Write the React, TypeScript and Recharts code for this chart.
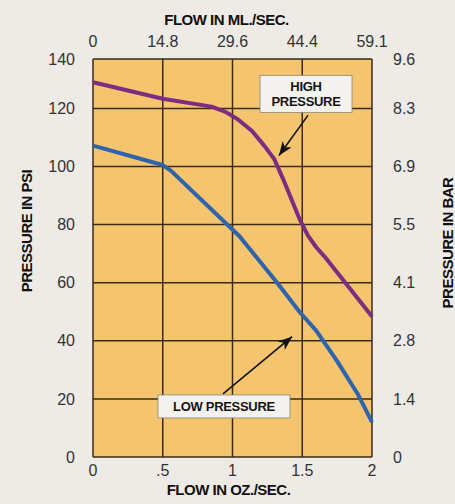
import React from 'react';
import { LineChart, Line, XAxis, YAxis, CartesianGrid, ReferenceLine, ReferenceDot, Label } from 'recharts';

const FONT = '"Liberation Sans", Arial, Helvetica, sans-serif';

// flow in oz./sec. and pressure in psi
const highFlow = [0, 0.5, 0.85, 0.95, 1.04, 1.14, 1.23, 1.3, 1.36, 1.48, 1.54, 1.6, 1.66, 2];
const highPsi = [129, 123.3, 120.6, 118.8, 116.2, 112.2, 107, 102.5, 96, 82, 76.3, 72.2, 69, 48.4];
const lowFlow = [0, 0.5, 0.56, 1.05, 1.32, 1.48, 1.6, 1.75, 1.9, 2];
const lowPsi = [107.2, 100.5, 98.5, 76, 60, 50, 43.5, 33, 21.5, 12];

// ticks; the printed grid's top row is cut short, its edge sits near 137 psi
const flowTicks = [0, 0.5, 1, 1.5, 2];
const ozLabels = ['0', '.5', '1', '1.5', '2'];
const mlLabels = ['0', '14.8', '29.6', '44.4', '59.1'];
const psiTicks = [0, 20, 40, 60, 80, 100, 120, 137];
const psiLabels = ['0', '20', '40', '60', '80', '100', '120', '140'];
const barLabels = ['0', '1.4', '2.8', '4.1', '5.5', '6.9', '8.3', '9.6'];

const highData = highFlow.map((flow, i) => ({ flow, psi: highPsi[i] }));
const lowData = lowFlow.map((flow, i) => ({ flow, psi: lowPsi[i] }));

// callouts (data units)
const highNote = { flow: 1.527, psi: 125, lines: ['HIGH', 'PRESSURE'], w: 92, h: 37 };
const lowNote = { flow: 0.939, psi: 17.4, lines: ['LOW PRESSURE'], w: 132, h: 23 };
const highArrow = [{ x: 1.541, y: 117.6 }, { x: 1.333, y: 103.8 }];
const lowArrow = [{ x: 0.932, y: 21.7 }, { x: 1.427, y: 41.4 }];

const tickStyle = { fontSize: 16, fill: '#333', fontFamily: FONT };
const titleStyle = { fontFamily: FONT, fontWeight: 700, fontSize: 15, letterSpacing: -0.5, fill: '#111' };

const axisTitle = (text: string, dx: number, dy: number, angle = 0) => (props: any) => {
  const vb = props.viewBox;
  const x = vb.x + vb.width / 2 + dx;
  const y = vb.y + vb.height / 2 + dy;
  return (
    <text
      x={x}
      y={y}
      textAnchor="middle"
      dominantBaseline="central"
      transform={angle ? `rotate(${angle} ${x} ${y})` : undefined}
      style={titleStyle}
    >
      {text}
    </text>
  );
};

const NoteBox = ({ cx, cy, lines, w, h }: any) => {
  const lh = 14.5;
  const first = -((lines.length - 1) * lh) / 2 + 4.6;
  return (
    <g>
      <rect x={cx - w / 2} y={cy - h / 2} width={w} height={h} fill="#f4f2ee" stroke="#8a8478" strokeWidth={0.8} />
      <text textAnchor="middle" style={{ fontFamily: FONT, fontWeight: 700, fontSize: 13, letterSpacing: -0.3, fill: '#151515' }}>
        {lines.map((l: string, i: number) => (
          <tspan key={l} x={cx} y={cy + first + i * lh}>{l}</tspan>
        ))}
      </text>
    </g>
  );
};

export default function App() {
  return (
    <div style={{ position: 'absolute', left: 0, top: 0, width: 455, height: 504, background: '#eeeae5' }}>
      <LineChart width={455} height={504} margin={{ top: 29, right: 23, bottom: 23, left: 33 }}>
        <defs>
          <marker id="arrowHead" markerUnits="userSpaceOnUse" markerWidth={15} markerHeight={11} refX={14} refY={5.5} orient="auto">
            <path d="M0,0 L14,5.5 L0,11 L4,5.5 Z" fill="#111" />
          </marker>
        </defs>
        <CartesianGrid xAxisId="oz" yAxisId="psi" fill="#f4c46e" fillOpacity={1} stroke="#3a2c14" strokeWidth={1.5} />
        <XAxis
          xAxisId="oz"
          dataKey="flow"
          type="number"
          domain={[0, 2]}
          ticks={flowTicks}
          interval={0}
          orientation="bottom"
          height={24}
          axisLine={false}
          tickLine={false}
          tickSize={0}
          tickMargin={8}
          tick={tickStyle}
          tickFormatter={(v, i) => ozLabels[i]}
        >
          <Label content={axisTitle('FLOW IN OZ./SEC.', -4, 20)} />
        </XAxis>
        {/* same range as the oz axis: 1 oz/s = 29.6 ml/s */}
        <XAxis
          xAxisId="ml"
          dataKey="flow"
          type="number"
          domain={[0, 2]}
          ticks={flowTicks}
          interval={0}
          orientation="top"
          height={30}
          axisLine={false}
          tickLine={false}
          tickSize={0}
          tickMargin={12}
          tick={tickStyle}
          tickFormatter={(v, i) => mlLabels[i]}
        >
          <Label content={axisTitle('FLOW IN ML./SEC.', -6, -25)} />
        </XAxis>
        <YAxis
          yAxisId="psi"
          type="number"
          domain={[0, 137]}
          ticks={psiTicks}
          interval={0}
          width={60}
          axisLine={false}
          tickLine={false}
          tickSize={0}
          tickMargin={18}
          tick={tickStyle}
          tickFormatter={(v, i) => psiLabels[i]}
        >
          <Label content={axisTitle('PRESSURE IN PSI', -37, -27, -90)} />
        </YAxis>
        {/* same range as the psi axis, labelled in bar */}
        <YAxis
          yAxisId="bar"
          orientation="right"
          type="number"
          domain={[0, 137]}
          ticks={psiTicks}
          interval={0}
          width={60}
          axisLine={false}
          tickLine={false}
          tickSize={0}
          tickMargin={21}
          tick={tickStyle}
          tickFormatter={(v, i) => barLabels[i]}
        >
          <Label content={axisTitle('PRESSURE IN BAR', 45, -15, -90)} />
        </YAxis>
        <Line
          data={highData}
          dataKey="psi"
          xAxisId="oz"
          yAxisId="psi"
          type="linear"
          stroke="#7d2c82"
          strokeWidth={4}
          strokeLinejoin="round"
          dot={false}
          isAnimationActive={false}
        />
        <Line
          data={lowData}
          dataKey="psi"
          xAxisId="ml"
          yAxisId="bar"
          type="linear"
          stroke="#2e63ad"
          strokeWidth={4}
          strokeLinejoin="round"
          dot={false}
          isAnimationActive={false}
        />
        <ReferenceLine xAxisId="oz" yAxisId="psi" segment={highArrow} stroke="#111" strokeWidth={1.6} markerEnd="url(#arrowHead)" />
        <ReferenceLine xAxisId="oz" yAxisId="psi" segment={lowArrow} stroke="#111" strokeWidth={1.6} markerEnd="url(#arrowHead)" />
        <ReferenceDot
          xAxisId="oz"
          yAxisId="psi"
          x={highNote.flow}
          y={highNote.psi}
          shape={(p: any) => <NoteBox cx={p.cx} cy={p.cy} lines={highNote.lines} w={highNote.w} h={highNote.h} />}
        />
        <ReferenceDot
          xAxisId="oz"
          yAxisId="psi"
          x={lowNote.flow}
          y={lowNote.psi}
          shape={(p: any) => <NoteBox cx={p.cx} cy={p.cy} lines={lowNote.lines} w={lowNote.w} h={lowNote.h} />}
        />
      </LineChart>
    </div>
  );
}
